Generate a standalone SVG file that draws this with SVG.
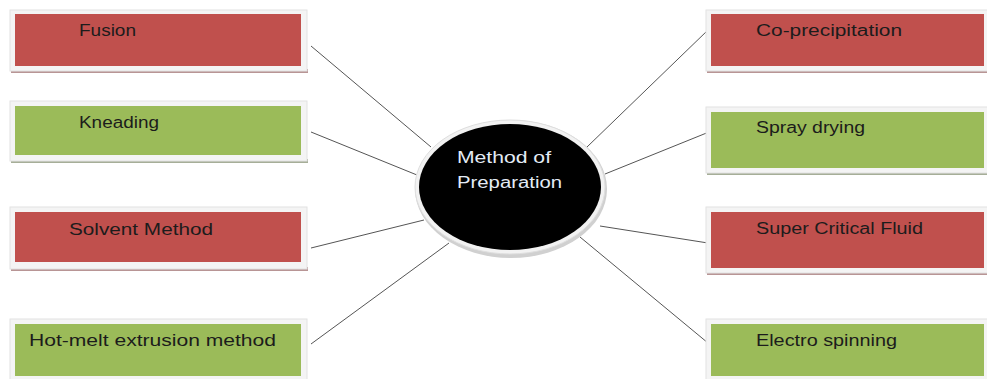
<svg xmlns="http://www.w3.org/2000/svg" width="987" height="379" viewBox="0 0 987 379">
<style>
.frame{fill:#f4f4f4;stroke:#e2e2e2;stroke-width:1}
.red{fill:#c0504d}
.green{fill:#9bbb59}
.shr{fill:#b89595}
.shg{fill:#a6ae98}
.lbl{font-family:"Liberation Sans",Arial,sans-serif;font-size:16px;fill:#1c1c1c}
.ctr{font-family:"Liberation Sans",Arial,sans-serif;font-size:16px;fill:#e4ecf6}
.conn line{stroke:#555;stroke-width:1}
</style>
<rect width="987" height="379" fill="#ffffff"/>
<g id="connectors" class="conn">
<line x1="311" y1="46" x2="431" y2="147"/>
<line x1="311" y1="132" x2="417" y2="175"/>
<line x1="311" y1="248" x2="424" y2="220"/>
<line x1="311" y1="344" x2="449" y2="243"/>
<line x1="708" y1="30" x2="587" y2="147"/>
<line x1="709" y1="132" x2="605" y2="174"/>
<line x1="708" y1="243" x2="600" y2="226"/>
<line x1="708" y1="343" x2="580" y2="237"/>
</g>
<g id="fusion">
<rect class="shr" x="11" y="69" width="297" height="4"/>
<rect class="frame" x="10" y="10" width="297" height="61"/>
<rect class="red" x="15" y="14" width="286" height="52"/>
<text class="lbl" x="79" y="36" textLength="57" lengthAdjust="spacingAndGlyphs">Fusion</text>
</g>
<g id="kneading">
<rect class="shg" x="11" y="159" width="297" height="4"/>
<rect class="frame" x="10" y="101" width="297" height="60"/>
<rect class="green" x="15" y="106" width="286" height="49"/>
<text class="lbl" x="79" y="128" textLength="80" lengthAdjust="spacingAndGlyphs">Kneading</text>
</g>
<g id="solvent">
<rect class="shr" x="11" y="267" width="297" height="4"/>
<rect class="frame" x="10" y="207" width="297" height="62"/>
<rect class="red" x="15" y="212" width="286" height="50"/>
<text class="lbl" x="69" y="235" textLength="144" lengthAdjust="spacingAndGlyphs">Solvent Method</text>
</g>
<g id="hotmelt">
<rect class="frame" x="10" y="319" width="297" height="62"/>
<rect class="green" x="15" y="324" width="286" height="52"/>
<text class="lbl" x="29" y="346" textLength="247" lengthAdjust="spacingAndGlyphs">Hot-melt extrusion  method</text>
</g>
<g id="coprecip">
<rect class="shr" x="707" y="69" width="282" height="4"/>
<rect class="frame" x="706" y="10" width="285" height="61"/>
<rect class="red" x="711" y="14" width="273" height="52"/>
<text class="lbl" x="756" y="36" textLength="146" lengthAdjust="spacingAndGlyphs">Co-precipitation</text>
</g>
<g id="spray">
<rect class="shg" x="707" y="171" width="282" height="4"/>
<rect class="frame" x="706" y="107" width="285" height="66"/>
<rect class="green" x="711" y="112" width="273" height="56"/>
<text class="lbl" x="756" y="133" textLength="109" lengthAdjust="spacingAndGlyphs">Spray drying</text>
</g>
<g id="supercritical">
<rect class="shr" x="707" y="271" width="282" height="4"/>
<rect class="frame" x="706" y="207" width="285" height="66"/>
<rect class="red" x="711" y="212" width="273" height="56"/>
<text class="lbl" x="756" y="234" textLength="167" lengthAdjust="spacingAndGlyphs">Super  Critical Fluid</text>
</g>
<g id="electro">
<rect class="frame" x="706" y="319" width="285" height="62"/>
<rect class="green" x="711" y="324" width="273" height="52"/>
<text class="lbl" x="756" y="346" textLength="141" lengthAdjust="spacingAndGlyphs">Electro spinning</text>
</g>
<g id="center">
<ellipse cx="511" cy="189" rx="96" ry="69" fill="#d0d0d0"/>
<ellipse cx="510" cy="187" rx="95" ry="67" fill="#f2f2f2" stroke="#dedede"/>
<ellipse cx="510" cy="187" rx="91" ry="63" fill="#000000"/>
<text class="ctr" x="457" y="163" textLength="94" lengthAdjust="spacingAndGlyphs">Method of</text>
<text class="ctr" x="457" y="188" textLength="105" lengthAdjust="spacingAndGlyphs">Preparation</text>
</g>
</svg>
